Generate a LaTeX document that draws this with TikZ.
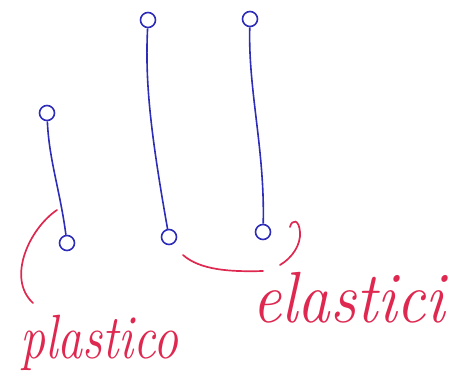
\documentclass[tikz,border=0pt]{standalone}
\usepackage{fontspec}
\definecolor{penblue}{RGB}{45,45,185}
\definecolor{penred}{RGB}{222,40,80}
\begin{document}
\begin{tikzpicture}[x=1pt,y=-1pt,
  ring/.style={circle,draw=penblue,line width=1.6pt,minimum size=15pt,inner sep=0pt},
  wire/.style={draw=penblue,line width=1.6pt},
  redpen/.style={draw=penred,line width=1.7pt,line cap=round},
  word/.style={text=penred,anchor=base west,inner sep=0pt}]
\useasboundingbox (0,0) rectangle (467,383);
% rings
\node[ring] (s1t) at (47,113) {};
\node[ring] (s1b) at (67,243) {};
\node[ring] (s2t) at (148,20) {};
\node[ring] (s2b) at (169,237) {};
\node[ring] (s3t) at (250,19) {};
\node[ring] (s3b) at (263,232) {};
% wires
\draw[wire] (s1t) .. controls (49,160) and (60,190) .. (s1b);
\draw[wire] (s2t) .. controls (145,80) and (150,130) .. (s2b);
\draw[wire] (s3t) .. controls (248,90) and (265,150) .. (s3b);
% red marks
\draw[redpen] (57,210) .. controls (30,228) and (6,278) .. (33,303);
\draw[redpen] (183,255) .. controls (200,270) and (230,272) .. (263,271);
\draw[redpen] (290,227) .. controls (292,219) and (299,219) .. (300,232)
  .. controls (301,245) and (292,258) .. (280,265);
% labels
\node[word] (plastico) at (20,358) {\scalebox{1}[1.25]{\fontsize{50}{50}\selectfont\itshape plastico}};
\node[word] (elastici) at (252,322) {\scalebox{1.03}[1.15]{\fontsize{63}{63}\selectfont\itshape elastici}};
\end{tikzpicture}
\end{document}
